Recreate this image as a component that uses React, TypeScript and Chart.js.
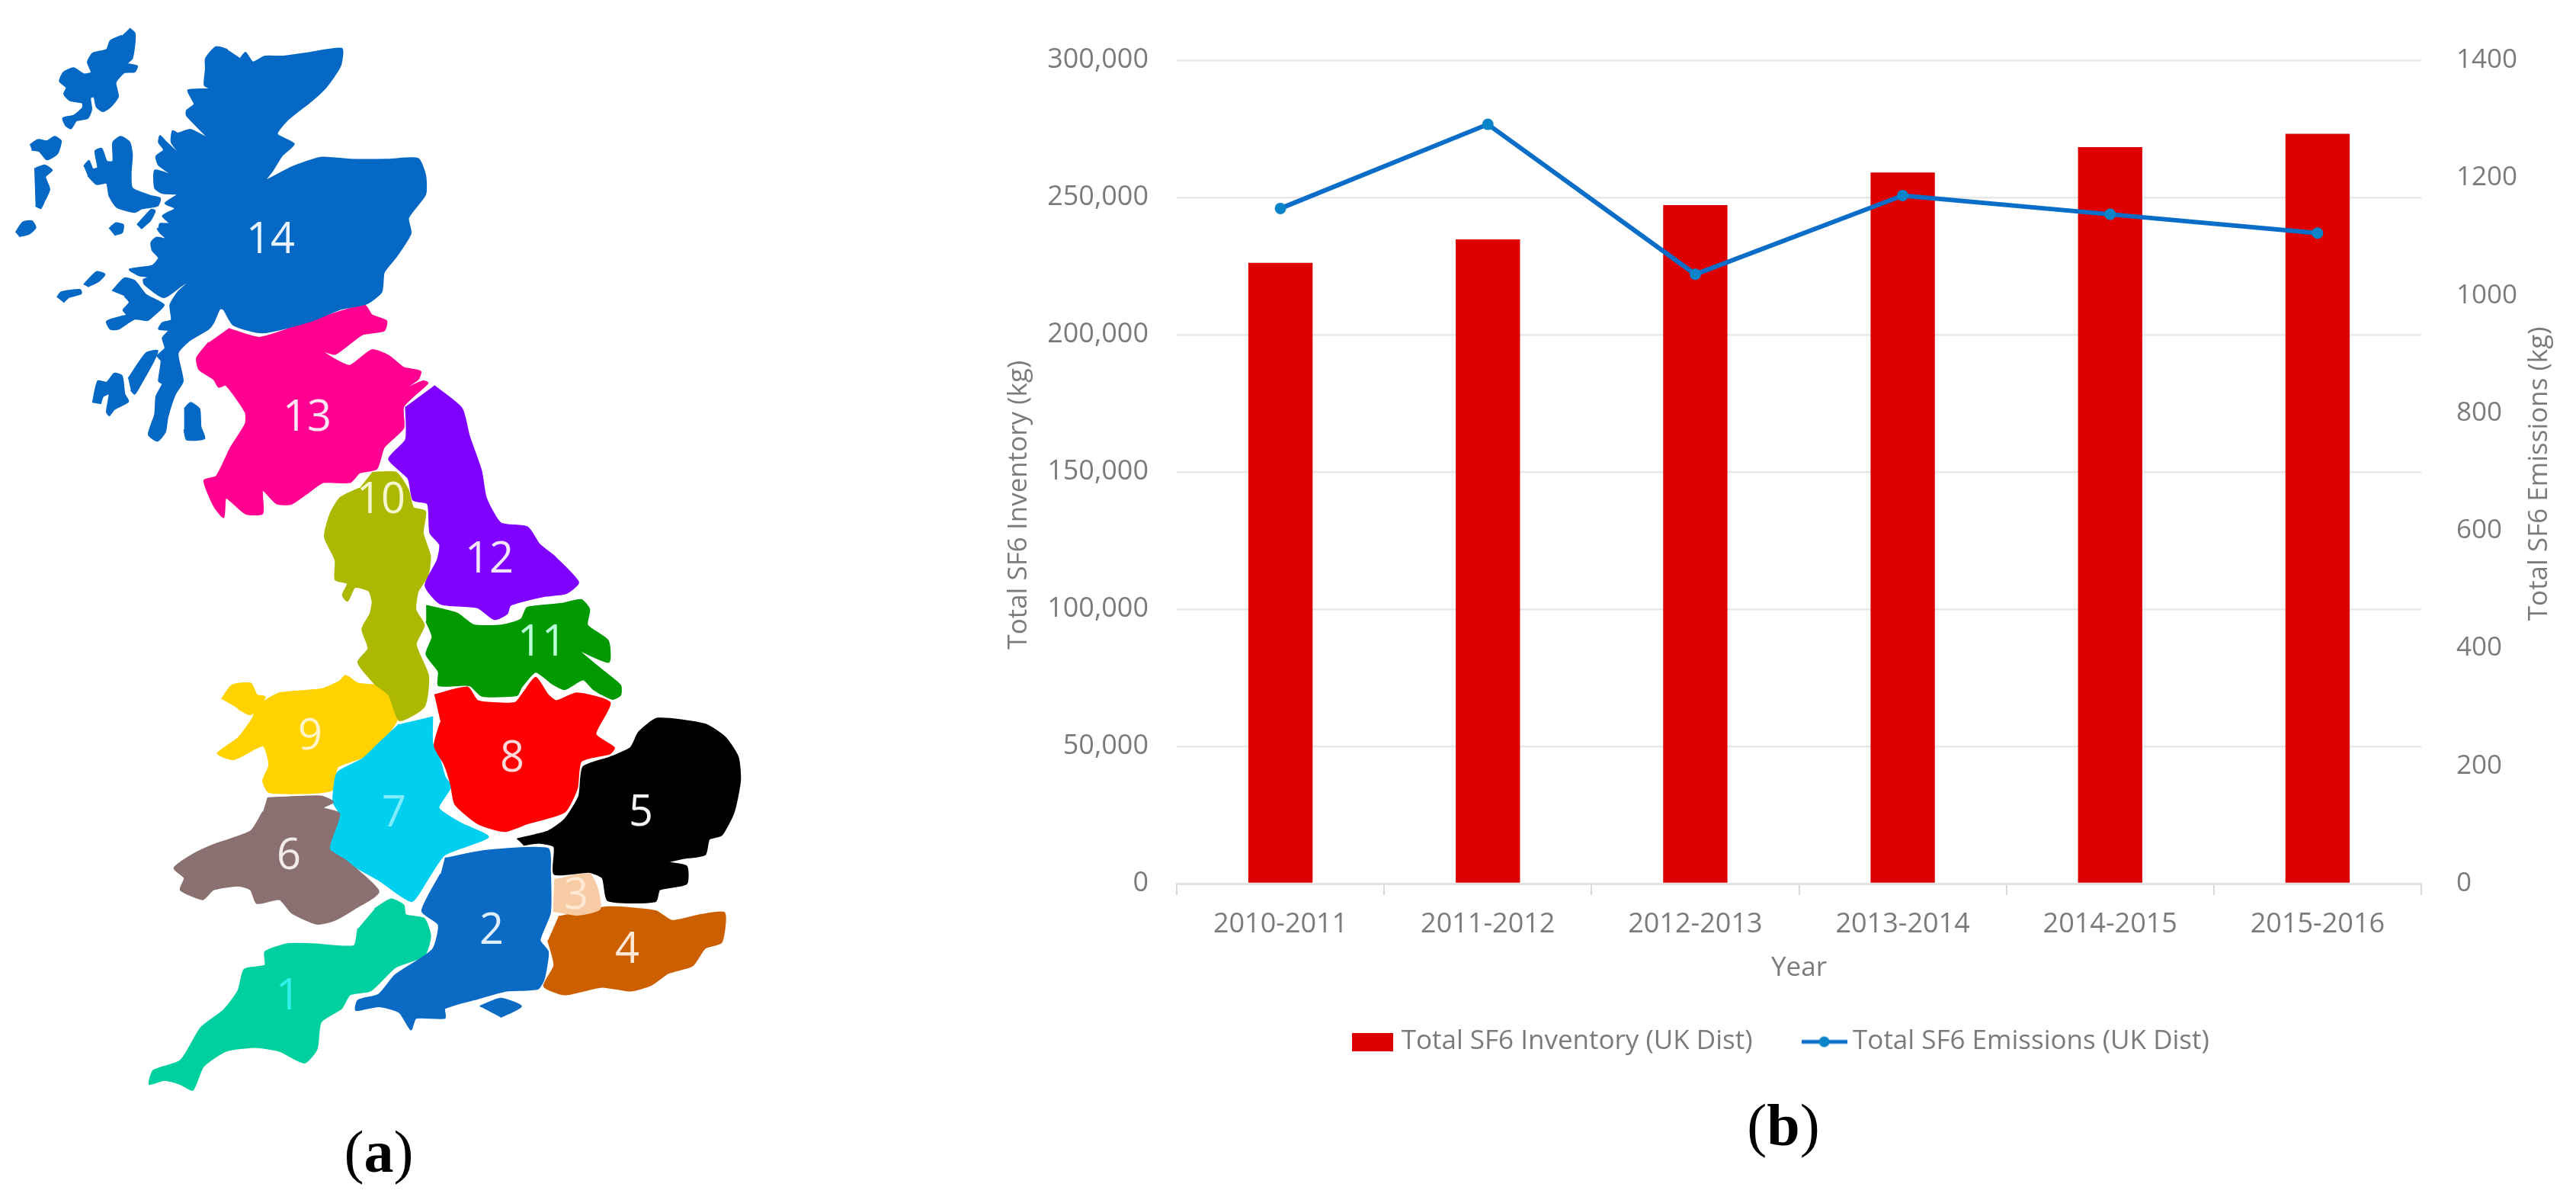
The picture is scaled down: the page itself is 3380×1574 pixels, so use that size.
import React, { useEffect, useRef } from "react";
import { Chart, registerables } from "chart.js";

Chart.register(...registerables);

// ---------- panel (b) data ----------
const categories = ["2010-2011", "2011-2012", "2012-2013", "2013-2014", "2014-2015", "2015-2016"];
const inventoryKg = [226200, 234700, 247200, 259100, 268300, 273200];
const emissionsKg = [1148, 1291, 1036, 1170, 1138, 1106];
const leftAxisTitle = "Total SF6 Inventory (kg)";
const rightAxisTitle = "Total SF6 Emissions (kg)";
const FONT = '"Open Sans", sans-serif';
const GREY = "#7b7b7b";

// ---------- panel (a) data: outlines ----------
type P = [number, number];
const T = (a: P[]) => a.map(([x, y]) => ({ x: x / 1.568, y: y / 1.96 }));
const B = (a: P[]) => a.map(([x, y]) => ({ x: x / 1.845 + 150, y: y / 1.96 + 774 }));
const A = (a: P[]) => a.map(([x, y]) => ({ x: x / 3, y: y / 3 + 20 }));
const C = (a: P[]) => a.map(([x, y]) => ({ x: x / 3 + 60, y: y / 3 + 300 }));

const scotlandEast: P[] = [[495,150],[505,135],[520,160],[545,145],[580,145],[640,135],[703,125],[700,170],[670,225],[640,260],[590,310],[570,345],[605,370],[580,400],[560,440],[545,465],[600,430],[660,405],[720,410],[800,410],[860,408],[875,450],[875,500],[840,560],[845,600],[815,660],[790,700],[785,750],[755,780],[700,795],[640,825],[540,855],[480,835],[460,795]];
const scotlandSouthWest: P[] = [[685,315],[660,370],[640,395],[565,440],[520,490],[540,600],[510,650],[480,740],[470,800],[440,835],[405,810],[430,730],[435,660],[460,610],[445,600],[455,520],[440,500],[470,470],[460,430],[485,400],[445,395],[460,370],[495,360],[490,300],[520,250],[570,205],[540,220],[465,270],[390,220],[385,200],[415,190],[370,185],[330,160],[420,145],[445,115],[420,85],[415,55],[435,35],[475,40],[450,15],[440,0]];
const scotlandNorthWest: P[] = [[625,840],[630,820],[670,820],[640,790],[690,760],[650,740],[700,705],[640,700],[610,680],[610,610],[680,630],[625,590],[615,555],[645,530],[625,500],[630,475],[655,500],[720,560],[675,500],[680,455],[700,465],[750,450],[820,485],[735,395],[735,375],[765,350],[740,295],[830,290],[805,275],[810,210],[810,170],[850,125],[895,135]];
const lewis: P[] = [[510,52],[530,70],[530,110],[520,170],[500,190],[540,200],[530,222],[490,225],[455,265],[465,320],[435,360],[405,378],[380,360],[370,320],[355,325],[360,370],[345,405],[300,415],[280,445],[260,435],[248,405],[290,395],[325,365],[325,345],[275,335],[252,310],[262,285],[235,260],[250,225],[290,208],[330,232],[360,225],[345,185],[365,150],[420,135],[435,100],[480,80]];
const uistA: P[] = [[118,510],[150,490],[185,495],[215,478],[240,495],[225,545],[185,568],[155,535],[125,530]];
const uistB: P[] = [[135,605],[175,590],[205,610],[178,635],[195,685],[175,730],[160,760],[140,750]];
const barra: P[] = [[62,855],[90,815],[125,810],[140,835],[115,860],[75,870]];
const skye: P[] = [[330,595],[350,572],[365,605],[385,600],[375,535],[400,525],[420,575],[445,575],[445,500],[475,478],[510,500],[520,550],[515,620],[520,680],[590,710],[630,720],[620,750],[560,760],[530,775],[460,755],[430,710],[420,660],[380,665],[345,630]];
const rum: P[] = [[430,840],[455,818],[485,825],[480,855],[450,865]];
const eigg: P[] = [[540,825],[595,765],[610,770],[590,810],[555,840]];
const coll: P[] = [[150,220],[200,170],[232,180],[210,205],[165,228]];
const tiree: P[] = [[45,270],[60,250],[135,240],[140,255],[90,270],[70,290]];
const mull: P[] = [[262,245],[310,195],[350,205],[395,260],[465,300],[420,345],[400,360],[350,355],[285,395],[255,395],[240,365],[300,345],[320,340],[305,320],[330,290],[310,265]];
const jura: P[] = [[325,590],[395,490],[440,480],[425,520],[375,610],[350,650],[335,635]];
const islay: P[] = [[185,685],[205,600],[240,605],[270,570],[300,580],[310,650],[325,680],[270,710],[250,735],[240,720],[250,650],[225,660],[215,690]];
const arran: P[] = [[545,710],[570,685],[605,710],[610,780],[625,825],[555,830],[545,790]];
const region13: P[] = [[470,845],[535,868],[640,825],[750,785],[765,810],[795,825],[790,850],[745,860],[690,910],[660,900],[690,925],[720,940],[765,900],[800,915],[830,945],[865,955],[860,975],[825,1005],[870,980],[880,985],[830,1045],[830,1100],[790,1150],[775,1205],[740,1215],[720,1240],[665,1240],[630,1270],[600,1295],[570,1295],[540,1260],[540,1320],[505,1320],[465,1280],[460,1330],[440,1300],[420,1235],[445,1225],[475,1150],[505,1090],[505,1060],[465,990],[450,995],[440,975],[410,950],[405,920],[430,880]];
const solwaySliver: P[] = [[660,545],[720,490],[755,490],[810,545],[745,530],[715,620],[690,570]];
const region12Top: P[] = [[893,992],[950,1050],[965,1120],[990,1210],[1000,1280],[1030,1345],[1085,1355],[1110,1400],[1140,1430],[1190,1497],[1165,1525],[1119,1533],[1050,1556],[1043,1578],[1017,1592],[983,1562],[906,1552],[875,1505],[900,1440],[905,1400],[885,1370],[880,1295],[850,1285],[840,1230],[800,1180],[835,1130],[835,1045]];
const region10Top: P[] = [[765,1215],[815,1215],[840,1260],[850,1305],[875,1315],[870,1370],[885,1430],[880,1480],[860,1520],[855,1568]];
const region10Low: P[] = [[750,90],[730,140],[760,220],[750,300],[690,335],[665,270],[630,240],[590,185],[615,150],[600,100],[620,60],[630,0]];
const region10Left: P[] = [[770,1568],[760,1520],[730,1510],[715,1545],[705,1530],[715,1500],[690,1490],[690,1440],[668,1380],[680,1320],[700,1280],[740,1255]];
const region11: P[] = [[755,40],[830,60],[870,90],[940,90],[985,75],[1000,45],[1085,35],[1130,25],[1150,50],[1145,90],[1195,130],[1197,185],[1125,155],[1180,205],[1225,245],[1225,270],[1205,280],[1160,255],[1135,230],[1090,255],[1060,240],[1020,210],[985,250],[975,270],[890,272],[860,245],[785,245],[785,210],[755,165],[770,120],[755,80]];
const region8: P[] = [[775,270],[855,250],[880,285],[970,290],[990,265],[1020,225],[1050,270],[1070,285],[1120,265],[1200,290],[1165,370],[1210,405],[1200,420],[1130,440],[1120,510],[1090,570],[1000,600],[945,620],[880,600],[825,550],[815,500],[800,450],[775,400],[790,340]];
const region5: P[] = [[975,640],[1050,620],[1090,590],[1125,530],[1135,455],[1200,430],[1250,405],[1270,365],[1315,330],[1430,345],[1480,380],[1510,430],[1515,490],[1500,570],[1470,630],[1440,640],[1430,680],[1375,690],[1340,700],[1385,710],[1385,755],[1320,770],[1310,800],[1195,798],[1182,740],[1150,725],[1065,730],[1065,660],[1030,650],[990,655]];
const region3: P[] = [[1065,745],[1150,730],[1170,770],[1175,820],[1120,835],[1062,825]];
const region4: P[] = [[1075,840],[1195,815],[1310,825],[1350,850],[1420,835],[1477,830],[1470,905],[1430,920],[1400,965],[1340,985],[1300,1015],[1250,1030],[1180,1020],[1090,1040],[1040,1018],[1065,965],[1050,900]];
const region2: P[] = [[800,690],[900,670],[1050,665],[1055,720],[1055,830],[1030,900],[1050,930],[1040,1000],[1025,1025],[950,1030],[880,1050],[800,1075],[800,1100],[730,1100],[718,1130],[690,1085],[640,1070],[585,1080],[590,1055],[640,1040],[680,990],[770,925],[785,860],[745,825],[790,730]];
const wight: P[] = [[885,1070],[935,1050],[985,1070],[935,1098]];
const region1: P[] = [[630,820],[670,795],[700,810],[705,835],[750,845],[765,890],[750,940],[680,970],[620,1030],[570,1040],[550,1075],[500,1110],[490,1180],[460,1215],[400,1185],[340,1175],[270,1185],[215,1225],[190,1285],[160,1270],[120,1260],[85,1270],[95,1235],[160,1210],[210,1125],[265,1080],[300,1030],[315,975],[365,965],[365,930],[420,910],[480,910],[580,915],[590,870]];
const region6: P[] = [[370,535],[500,530],[530,545],[505,560],[545,575],[520,665],[560,695],[640,775],[580,820],[530,850],[490,858],[430,830],[400,795],[345,805],[330,770],[300,760],[240,770],[215,795],[185,785],[160,770],[170,740],[145,715],[190,680],[240,655],[330,620],[360,570]];
const region7: P[] = [[770,325],[770,395],[785,425],[800,480],[815,505],[785,560],[840,600],[905,635],[800,680],[760,740],[720,800],[640,745],[525,675],[520,650],[545,575],[530,545],[540,470],[600,435],[640,395],[690,345]];
const region9: P[] = [[660,255],[685,330],[645,390],[600,430],[540,455],[525,515],[375,520],[360,490],[375,450],[360,400],[290,435],[250,420],[300,380],[335,330],[345,300],[400,265],[500,255],[545,235],[560,220],[590,240],[640,245]];
const anglesey: P[] = [[260,280],[285,245],[330,240],[345,270],[365,275],[330,320],[300,305]];

const BLUE14 = "#0468c4";
const shapes: { c: string; d: { x: number; y: number }[] }[] = [
  { c: BLUE14, d: [...T(scotlandEast), ...C(scotlandSouthWest), ...A(scotlandNorthWest)] },
  ...[lewis, uistA, uistB, barra, skye, rum, eigg].map((s) => ({ c: BLUE14, d: A(s) })),
  ...[coll, tiree, mull, jura, islay, arran].map((s) => ({ c: BLUE14, d: C(s) })),
  { c: "#ff0090", d: T(region13) },
  { c: "#ffffff", d: C(solwaySliver) },
  { c: "#7f00ff", d: T(region12Top) },
  { c: "#adb800", d: [...T(region10Top), ...B(region10Low), ...T(region10Left)] },
  { c: "#009a00", d: B(region11) },
  { c: "#ff0000", d: B(region8) },
  { c: "#000000", d: B(region5) },
  { c: "#f7cba4", d: B(region3) },
  { c: "#cc5f00", d: B(region4) },
  { c: "#0a6ac4", d: B(region2) },
  { c: "#0a6ac4", d: B(wight) },
  { c: "#00d09f", d: B(region1) },
  { c: "#8a7070", d: B(region6) },
  { c: "#00cff0", d: B(region7) },
  { c: "#ffd200", d: B(region9) },
  { c: "#ffd200", d: B(anglesey) },
];

const regionLabels = ["14", "13", "10", "12", "11", "9", "8", "7", "6", "5", "3", "2", "4", "1"];
const labelX = [355, 403, 500, 642, 711, 407, 672, 517, 379, 841, 756, 645, 823, 378];
const labelY = [316, 549, 657, 735, 844, 967, 996, 1068, 1124, 1067, 1176, 1222, 1247, 1308];
const labelColors = ["#e8f4ff", "#ffe4f4", "#f4f7d0", "#f4e4ff", "#b8ffd8", "#fff4c8", "#ffd8d8", "#80ecff", "#f4ecec", "#f4f4f4", "#ffe8d4", "#e0efff", "#ffe8d4", "#30f0e8"];

const mapLabels = {
  id: "mapLabels",
  afterDatasetsDraw(chart: any) {
    const { ctx, scales } = chart;
    ctx.save();
    ctx.font = `56px ${FONT}`;
    ctx.textAlign = "center";
    ctx.textBaseline = "middle";
    regionLabels.forEach((t, i) => {
      ctx.fillStyle = labelColors[i];
      ctx.fillText(t, scales.x.getPixelForValue(labelX[i]), scales.y.getPixelForValue(labelY[i]));
    });
    ctx.restore();
  },
};

// Both side titles read bottom-to-top and sit off-centre in the reference.
const sideTitles = {
  id: "sideTitles",
  afterDraw(chart: any) {
    const { ctx, scales } = chart;
    const put = (text: string, x: number, y: number) => {
      ctx.save();
      ctx.translate(x, y);
      ctx.rotate(-Math.PI / 2);
      ctx.font = `35px ${FONT}`;
      ctx.fillStyle = GREY;
      ctx.textAlign = "center";
      ctx.textBaseline = "middle";
      ctx.fillText(text, 0, 0);
      ctx.restore();
    };
    put(leftAxisTitle, scales.y.left + 37, scales.y.getPixelForValue(138000));
    put(rightAxisTitle, scales.y1.right - 48, scales.y1.getPixelForValue(697));
  },
};

function legendBar() {
  const c = document.createElement("canvas");
  c.width = 54; c.height = 24;
  const g = c.getContext("2d")!;
  g.fillStyle = "#de0000";
  g.fillRect(0, 0, 54, 24);
  return c;
}
function legendLine() {
  const c = document.createElement("canvas");
  c.width = 60; c.height = 16;
  const g = c.getContext("2d")!;
  g.fillStyle = "#0a6ec8";
  g.fillRect(0, 5.5, 60, 5);
  g.fillStyle = "#0a84c8";
  g.beginPath(); g.arc(30, 8, 7, 0, Math.PI * 2); g.fill();
  return c;
}

const BAR_TOP = 20;
const PLOT_TOP = 74;
const PLOT_BOTTOM = 1159;

export default function App() {
  const mapRef = useRef<HTMLCanvasElement>(null);
  const barRef = useRef<HTMLCanvasElement>(null);

  useEffect(() => {
    const map = new Chart(mapRef.current!, {
      type: "line",
      data: {
        datasets: shapes.map((s) => ({
          data: s.d,
          backgroundColor: s.c,
          borderColor: s.c,
          borderWidth: 2,
          borderJoinStyle: "round",
          pointRadius: 0,
          fill: "shape",
          tension: 0.2,
        })),
      },
      options: {
        indexAxis: "y",
        animation: false,
        responsive: false,
        events: [],
        layout: { padding: 0 },
        plugins: { legend: { display: false }, tooltip: { enabled: false } },
        scales: {
          x: { type: "linear", min: 0, max: 1280, display: false },
          y: { type: "linear", min: 0, max: 1574, reverse: true, display: false },
        },
      },
      plugins: [mapLabels],
    } as any);

    const imgs = [legendBar(), legendLine()];
    const bar = new Chart(barRef.current!, {
      data: {
        labels: categories,
        datasets: [
          { type: "bar", label: "Total SF6 Inventory (UK Dist)", data: inventoryKg, backgroundColor: "#de0000", yAxisID: "y", order: 2, barPercentage: 0.31, categoryPercentage: 1 },
          { type: "line", label: "Total SF6 Emissions (UK Dist)", data: emissionsKg, borderColor: "#0a6ec8", backgroundColor: "#0a84c8", borderWidth: 6, pointRadius: 7.5, pointBackgroundColor: "#0a84c8", pointBorderWidth: 0, tension: 0, yAxisID: "y1", order: 1 },
        ],
      },
      options: {
        animation: false,
        responsive: false,
        events: [],
        layout: { padding: { top: 54, left: 0, right: 0, bottom: 0 } },
        plugins: {
          tooltip: { enabled: false },
          legend: {
            position: "bottom",
            labels: {
              font: { family: FONT, size: 35 },
              color: GREY,
              usePointStyle: true,
              boxHeight: 24,
              boxWidth: 40,
              pointStyleWidth: 40,
              padding: 74,
              sort: (a: any, b: any) => a.datasetIndex - b.datasetIndex,
              generateLabels(chart: any) {
                return Chart.defaults.plugins.legend.labels.generateLabels(chart).map((l: any) => ({ ...l, pointStyle: imgs[l.datasetIndex] }));
              },
            },
          },
        },
        scales: {
          x: {
            afterFit(s: any) { s.height = 116; },
            grid: { drawOnChartArea: false, drawTicks: true, tickLength: 15, color: "#d9d9d9", lineWidth: 2 },
            border: { color: "#e2e2e2", width: 3 },
            ticks: { font: { family: FONT, size: 36 }, color: GREY, padding: 17, maxRotation: 0 },
            title: { display: true, text: "Year", font: { family: FONT, size: 35 }, color: GREY, padding: { top: 0, bottom: -16 } },
          },
          y: {
            position: "left",
            min: 0, max: 300000,
            afterFit(s: any) { s.width = 244; },
            grid: { color: "#e8e8e8", lineWidth: 2.5, drawTicks: false },
            border: { display: false },
            ticks: { stepSize: 50000, font: { family: FONT, size: 36 }, color: GREY, padding: 37 },
          },
          y1: {
            position: "right",
            min: 0, max: 1400,
            afterFit(s: any) { s.width = 203; },
            grid: { display: false },
            border: { display: false },
            ticks: { stepSize: 200, font: { family: FONT, size: 35 }, color: GREY, padding: 38, callback: (v: any) => String(v) },
          },
        },
      },
      plugins: [sideTitles],
    } as any);

    // Pin the plot's edges to where the reference has them.
    const topErr = BAR_TOP + bar.chartArea.top - PLOT_TOP;
    if (Math.abs(topErr) > 0.25) {
      (bar.options.layout as any).padding.top -= topErr;
      bar.update();
    }
    const dh = Math.round(PLOT_BOTTOM - (BAR_TOP + bar.chartArea.bottom));
    if (dh !== 0) bar.resize(2080, 1374 + dh);

    return () => { map.destroy(); bar.destroy(); };
  }, []);

  const cap = { position: "absolute" as const, fontFamily: '"Liberation Serif", serif', fontSize: 78, color: "#000", transform: "translate(-50%,-50%)", lineHeight: 1 };
  return (
    <div style={{ position: "absolute", left: 0, top: 0, width: 3380, height: 1574, overflow: "hidden", background: "#fff" }}>
      <canvas ref={mapRef} width={1280} height={1574} style={{ position: "absolute", left: 0, top: 0 }} />
      <canvas ref={barRef} width={2080} height={1374} style={{ position: "absolute", left: 1300, top: BAR_TOP }} />
      <div style={{ ...cap, left: 497, top: 1511 }}>(<b>a</b>)</div>
      <div style={{ ...cap, left: 2340, top: 1476 }}>(<b>b</b>)</div>
    </div>
  );
}
